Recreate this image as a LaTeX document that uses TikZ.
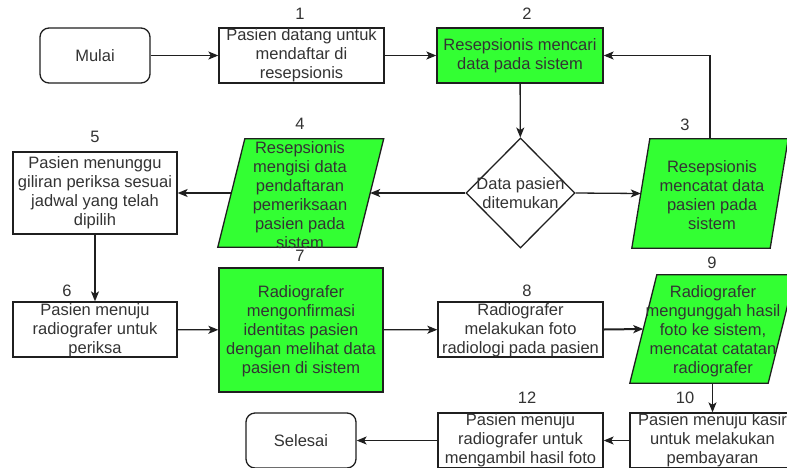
\documentclass[tikz,border=0pt]{standalone}
\usepackage{fontspec}
\setmainfont{Liberation Sans}
\usetikzlibrary{shapes.geometric,arrows.meta}
\definecolor{ink}{HTML}{333333}
\definecolor{edge}{HTML}{1F1F1F}
\definecolor{fillgreen}{HTML}{33FF33}
% parallelogram drawn around an invisible frame node: #1 node, #2 half skew, #3 extra style
\newcommand\slantframe[3]{%
  \draw[edge line, #3] ([xshift=-#2]#1.south west) -- ([xshift=-#2]#1.south east)
    -- ([xshift=#2]#1.north east) -- ([xshift=#2]#1.north west) -- cycle;}
\begin{document}
\begin{tikzpicture}[x=1pt,y=-1pt,
  every node/.style={font=\fontsize{16.5}{19}\selectfont, text=ink},
  edge line/.style={draw=edge, line width=1.3pt},
  boxshape/.style={rectangle, edge line, inner sep=0pt},
  terminal/.style={boxshape, rounded corners=9pt},
  frame/.style={rectangle, draw=none, inner sep=0pt},
  greenfill/.style={fill=fillgreen},
  txt/.style={align=center, inner sep=0pt},
  num/.style={inner sep=0pt},
  flow/.style={edge line, -{Stealth[length=10pt,width=8pt,inset=2.5pt]}}
]
\useasboundingbox (0,0) rectangle (787,467);
\fill[white] (0,0) rectangle (787,467);
\clip (0,0) rectangle (787,467);

% process boxes and terminals
\node[terminal, minimum width=110pt, minimum height=55pt] (start) at (95,55.5) {};
\node[boxshape, minimum width=165pt, minimum height=55pt] (b1) at (301.5,55.5) {};
\node[boxshape, greenfill, minimum width=166pt, minimum height=55pt] (b2) at (520,55.5) {};
\node[diamond, edge line, inner sep=0pt, minimum width=109pt, minimum height=110pt] (dec) at (520.5,193) {};
\node[frame, minimum width=138.5pt, minimum height=108pt] (p4) at (300.75,193) {};
\node[frame, minimum width=138pt, minimum height=109pt] (p3) at (710,193.5) {};
\node[boxshape, minimum width=164pt, minimum height=82pt] (b5) at (95,193) {};
\node[boxshape, minimum width=164pt, minimum height=55pt] (b6) at (95,329.5) {};
\node[boxshape, greenfill, minimum width=164pt, minimum height=124pt] (b7) at (301,330) {};
\node[boxshape, minimum width=165pt, minimum height=55pt] (b8) at (520.5,329.5) {};
\node[frame, minimum width=138pt, minimum height=108pt] (p9) at (712.5,329) {};
\node[boxshape, minimum width=165pt, minimum height=55pt] (b10) at (712.5,440.5) {};
\node[boxshape, minimum width=165pt, minimum height=55pt] (b12) at (520.5,440.5) {};
\node[terminal, minimum width=110pt, minimum height=55pt] (stop) at (301,440.5) {};

% data (parallelogram) shapes
\slantframe{p4}{13.5pt}{greenfill}
\slantframe{p3}{9pt}{greenfill}
\slantframe{p9}{13.5pt}{greenfill}

% texts
\node[txt] (tstart) at (start) {Mulai};
\node[txt] (t1) at (b1) {Pasien datang untuk\\mendaftar di\\resepsionis};
\node[txt] (t2) at (b2) {Resepsionis mencari\\data pada sistem};
\node[txt] (tdec) at (dec) {Data pasien\\ditemukan};
\node[txt] (t4) at (300,195) {Resepsionis\\mengisi data\\pendaftaran\\pemeriksaan\\pasien pada\\sistem};
\node[txt] (t3) at (712,195) {Resepsionis\\mencatat data\\pasien pada\\sistem};
\node[txt] (t5) at (b5) {Pasien menunggu\\giliran periksa sesuai\\jadwal yang telah\\dipilih};
\node[txt] (t6) at (95,330) {Pasien menuju\\radiografer untuk\\periksa};
\node[txt] (t7) at (301,331) {Radiografer\\mengonfirmasi\\identitas pasien\\dengan melihat data\\pasien di sistem};
\node[txt] (t8) at (520.5,330.5) {Radiografer\\melakukan foto\\radiologi pada pasien};
\node[txt] (t9) at (713,331) {Radiografer\\mengunggah hasil\\foto ke sistem,\\mencatat catatan\\radiografer};
\node[txt] (t10) at (712.5,440.5) {Pasien menuju kasir\\untuk melakukan\\pembayaran};
\node[txt] (t12) at (520.5,440.5) {Pasien menuju\\radiografer untuk\\mengambil hasil foto};
\node[txt] (tstop) at (stop) {Selesai};

% step numbers
\node[num] (n1) at (300,14) {1};
\node[num] (n2) at (527,14) {2};
\node[num] (n3) at (685,125) {3};
\node[num] (n4) at (300,124) {4};
\node[num] (n5) at (95,137) {5};
\node[num] (n6) at (67,291) {6};
\node[num] (n7) at (300,256) {7};
\node[num] (n8) at (527,291) {8};
\node[num] (n9) at (712,263) {9};
\node[num] (n10) at (685,398) {10};
\node[num] (n12) at (527,398) {12};

% connectors
\draw[flow] (start) -- (b1);
\draw[flow] (b1) -- (b2);
\draw[flow] (b2) -- (dec);
\draw[flow] (dec.west) -- (p4.east);
\draw[flow] (dec.east) -- (p3.west);
\draw[flow] (p3.north) |- (b2.east);
\draw[flow] (p4.west) -- (b5.east);
\draw[flow] (b5) -- (b6);
\draw[flow] (b6) -- (b7);
\draw[flow] (b7) -- (b8);
\draw[flow, line width=2pt] (b8.east) -- (p9.west);
\draw[flow] (p9.south) -- (b10.north);
\draw[flow] (b10) -- (b12);
\draw[flow] (b12) -- (stop);
\end{tikzpicture}
\end{document}
